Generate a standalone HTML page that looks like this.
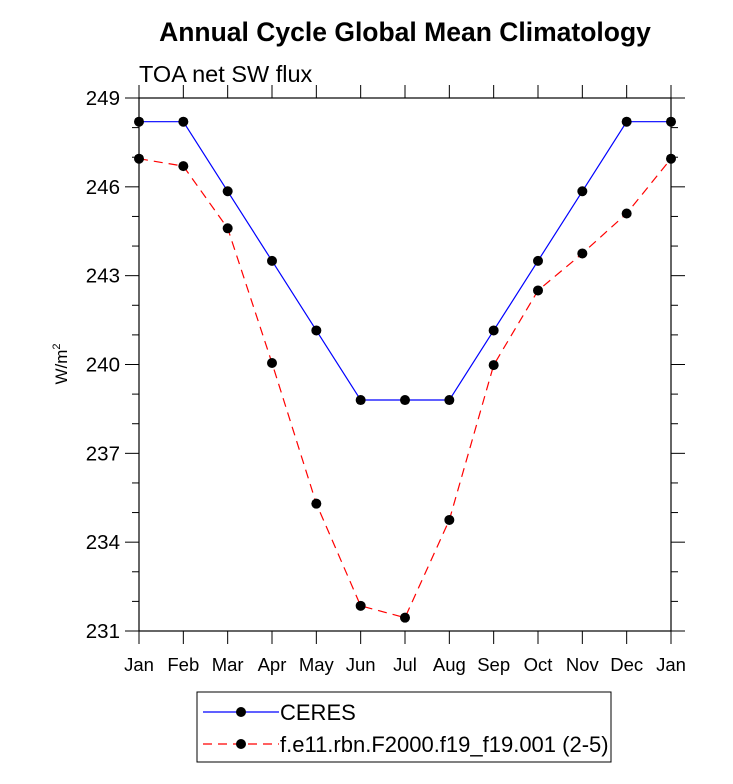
<!DOCTYPE html>
<html><head><meta charset="utf-8"><style>
body{margin:0;background:#fff;}
svg{display:block;font-family:"Liberation Sans",Arial,sans-serif;}
</style></head><body>
<svg id="chart" width="733" height="784" viewBox="0 0 733 784" xmlns="http://www.w3.org/2000/svg">
<text x="405" y="41" font-size="26.5" font-weight="bold" text-anchor="middle">Annual Cycle Global Mean Climatology</text>
<text x="139" y="82" font-size="23.5">TOA net SW flux</text>
<text transform="translate(67,364) rotate(-90)" font-size="17" text-anchor="middle">W/m<tspan dy="-7" font-size="11">2</tspan></text>
<g id="axes"></g>
<g id="series"></g>
<g>
<rect x="197" y="692" width="414" height="70" fill="#fff" stroke="#000" stroke-width="1"/>
<line x1="203" y1="712" x2="279" y2="712" stroke="#00f" stroke-width="1.2"/>
<circle cx="241" cy="712" r="5" fill="#000"/>
<text x="280" y="720" font-size="22">CERES</text>
<line x1="203" y1="744" x2="279" y2="744" stroke="#f00" stroke-width="1.2" stroke-dasharray="9,6"/>
<circle cx="241" cy="744" r="5" fill="#000"/>
<text x="280" y="752" font-size="22">f.e11.rbn.F2000.f19_f19.001 (2-5)</text>
</g>
</svg>
<script>
const months = ["Jan","Feb","Mar","Apr","May","Jun","Jul","Aug","Sep","Oct","Nov","Dec","Jan"];
const ceres = [248.2,248.2,245.85,243.5,241.15,238.8,238.8,238.8,241.15,243.5,245.85,248.2,248.2];
const model = [246.95,246.7,244.6,240.05,235.3,231.85,231.45,234.75,239.98,242.5,243.75,245.1,246.95];
const yTicks = [231,234,237,240,243,246,249];
const NS="http://www.w3.org/2000/svg";
const L=139,R=671,T=98,B=631,ymin=231,ymax=249;
const xs=i=>L+(R-L)*i/(months.length-1);
const ys=v=>B-(v-ymin)/(ymax-ymin)*(B-T);
function mk(tag,attrs,parent){const e=document.createElementNS(NS,tag);for(const k in attrs)e.setAttribute(k,attrs[k]);parent.appendChild(e);return e;}
const ax=document.getElementById('axes');
const frame=mk('rect',{x:L,y:T,width:R-L,height:B-T,fill:'none',stroke:'#000','stroke-width':1.2},ax);


for(let v=ymin;v<=ymax;v++){
  const major=yTicks.includes(v);const len=major?14:7;const y=ys(v);
  mk('line',{x1:L-len,y1:y,x2:L,y2:y,stroke:'#000','stroke-width':1},ax);
  mk('line',{x1:R,y1:y,x2:R+len,y2:y,stroke:'#000','stroke-width':1},ax);
}
yTicks.forEach(v=>{
  const t=mk('text',{x:L-19,y:ys(v)+7,'font-size':20.5,'text-anchor':'end'},ax);
  t.textContent=v;
  
  
});
months.forEach((m,i)=>{
  const x=xs(i);
  mk('line',{x1:x,y1:B,x2:x,y2:B+13,stroke:'#000','stroke-width':1},ax);
  mk('line',{x1:x,y1:T-13,x2:x,y2:T,stroke:'#000','stroke-width':1},ax);
  const t=mk('text',{x:x,y:B+40,'font-size':18.5,'text-anchor':'middle'},ax);
  t.textContent=m;
  
  
});
const sg=document.getElementById('series');
function series(vals,color,dash,name){
  const p=mk('polyline',{points:vals.map((v,i)=>xs(i)+','+ys(v)).join(' '),fill:'none',stroke:color,'stroke-width':1.2,'stroke-dasharray':dash},sg);
  
  
  vals.forEach((v,i)=>{
    const c=mk('circle',{cx:xs(i),cy:ys(v),r:5,fill:'#000'},sg);
    
    
  });
}
series(ceres,'#00f','none','ceres');
series(model,'#f00','9,6','model');
</script>
</body></html>
